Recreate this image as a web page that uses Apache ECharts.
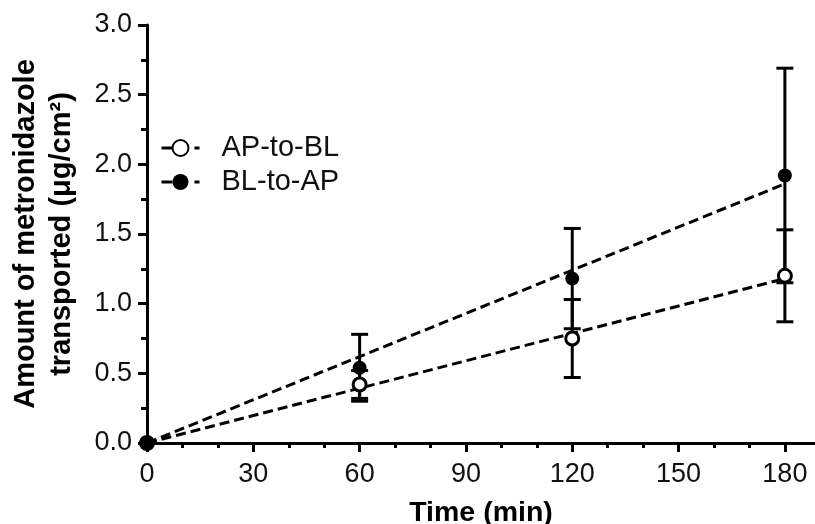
<!DOCTYPE html>
<html>
<head>
<meta charset="utf-8">
<script src="https://cdn.jsdelivr.net/npm/echarts@6/dist/echarts.min.js"></script>
<style>html,body{margin:0;padding:0;background:#fff}#main{width:815px;height:524px}</style>
</head>
<body>
<div id="main"></div>
<script>
// data
var times = [0, 60, 120, 180];
var apMean = [0, 0.42, 0.75, 1.20];
var apErr = [0, 0.10, 0.28, 0.33];
var blMean = [0, 0.54, 1.18, 1.92];
var blErr = [0, 0.24, 0.36, 0.77];
// fitted lines (through origin)
var fitX = [0, 180];
var apFit = [0, 1.18];
var blFit = [0, 1.86];
var xTicks = [0, 30, 60, 90, 120, 150, 180];
var xMinor = [10, 20, 40, 50, 70, 80, 100, 110, 130, 140, 160, 170];

var font = 'Liberation Sans, Arial, sans-serif';

function pts(xs, ys) {
    var out = [];
    for (var i = 0; i < xs.length; i++) out.push([xs[i], ys[i]]);
    return out;
}
function errData(mean, err) {
    var out = [];
    for (var i = 0; i < times.length; i++) {
        if (err[i] > 0) out.push([times[i], mean[i] - err[i], mean[i] + err[i]]);
    }
    return out;
}
function renderErr(params, api) {
    var x = api.value(0);
    var top = api.coord([x, api.value(2)]);
    var bot = api.coord([x, api.value(1)]);
    var w = 8.5;
    var st = { stroke: '#000', lineWidth: 3 };
    return {
        type: 'group',
        children: [
            { type: 'line', shape: { x1: top[0], y1: top[1], x2: bot[0], y2: bot[1] }, style: st },
            { type: 'line', shape: { x1: top[0] - w, y1: top[1], x2: top[0] + w, y2: top[1] }, style: st },
            { type: 'line', shape: { x1: bot[0] - w, y1: bot[1], x2: bot[0] + w, y2: bot[1] }, style: st }
        ]
    };
}

var axisLine = { show: true, lineStyle: { color: '#000', width: 3 } };

option = {
    backgroundColor: '#fff',
    animation: false,
    grid: { left: 147, right: 0, top: 25, bottom: 81, outerBoundsMode: 'none', containLabel: false },
    legend: {
        left: 155,
        top: 128,
        orient: 'vertical',
        itemWidth: 38,
        itemHeight: 20,
        itemGap: 4,
        data: ['AP-to-BL', 'BL-to-AP'],
        lineStyle: { color: '#000', width: 3, type: [11, 22], opacity: 1 },
        textStyle: { fontFamily: font, fontSize: 29, lineHeight: 30, color: '#111', padding: [0, 0, 0, 17] }
    },
    xAxis: [{
        type: 'value',
        min: 0,
        max: 188.5,
        axisLine: axisLine,
        axisTick: { show: true, customValues: xTicks, length: 9, lineStyle: { color: '#000', width: 3 } },
        axisLabel: { customValues: xTicks, margin: 18, fontFamily: font, fontSize: 27, color: '#111' },
        splitLine: { show: false },
        name: 'Time (min)',
        nameLocation: 'middle',
        nameGap: 56,
        nameTextStyle: { fontFamily: font, fontSize: 28.5, fontWeight: 'bold', color: '#000' }
    }, {
        type: 'value',
        min: 0,
        max: 188.5,
        position: 'bottom',
        axisLine: { show: false },
        axisTick: { show: true, customValues: xMinor, length: 5, lineStyle: { color: '#000', width: 3 } },
        axisLabel: { show: false },
        splitLine: { show: false }
    }],
    yAxis: {
        type: 'value',
        min: 0,
        max: 3,
        interval: 0.5,
        axisLine: axisLine,
        axisTick: { show: true, length: 9, lineStyle: { color: '#000', width: 3 } },
        minorTick: { show: true, splitNumber: 2, length: 6, lineStyle: { color: '#000', width: 3 } },
        axisLabel: {
            margin: 15, fontFamily: font, fontSize: 27, color: '#111',
            formatter: function (v) { return v.toFixed(1); }
        },
        splitLine: { show: false },
        name: 'Amount of metronidazole\ntransported (\u03bcg/cm\u00b2)',
        nameLocation: 'middle',
        nameRotate: 90,
        nameGap: 67,
        nameTextStyle: { fontFamily: font, fontSize: 29, fontWeight: 'bold', color: '#000', lineHeight: 36 }
    },
    series: [
        {
            type: 'line', name: 'fitAP', data: pts(fitX, apFit), symbol: 'none', silent: true,
            lineStyle: { color: '#000', width: 3, type: [10, 5] }, z: 2
        },
        {
            type: 'line', name: 'fitBL', data: pts(fitX, blFit), symbol: 'none', silent: true,
            lineStyle: { color: '#000', width: 3, type: [10, 5] }, z: 2
        },
        { type: 'custom', name: 'errAP', data: errData(apMean, apErr), renderItem: renderErr, z: 3, clip: false },
        { type: 'custom', name: 'errBL', data: errData(blMean, blErr), renderItem: renderErr, z: 3, clip: false },
        {
            type: 'line', name: 'AP-to-BL', data: pts(times, apMean),
            symbol: 'circle', symbolSize: 13, showAllSymbol: true, clip: false,
            lineStyle: { opacity: 0, width: 0 },
            itemStyle: { color: '#fff', borderColor: '#000', borderWidth: 3 }, z: 4
        },
        {
            type: 'line', name: 'BL-to-AP', data: pts(times, blMean),
            symbol: 'circle', symbolSize: 14, showAllSymbol: true, clip: false,
            lineStyle: { opacity: 0, width: 0 },
            itemStyle: { color: '#000', borderColor: '#000', borderWidth: 0 }, z: 5
        }
    ]
};

var myChart = echarts.init(document.getElementById('main'));
myChart.setOption(option);
</script>
</body>
</html>
